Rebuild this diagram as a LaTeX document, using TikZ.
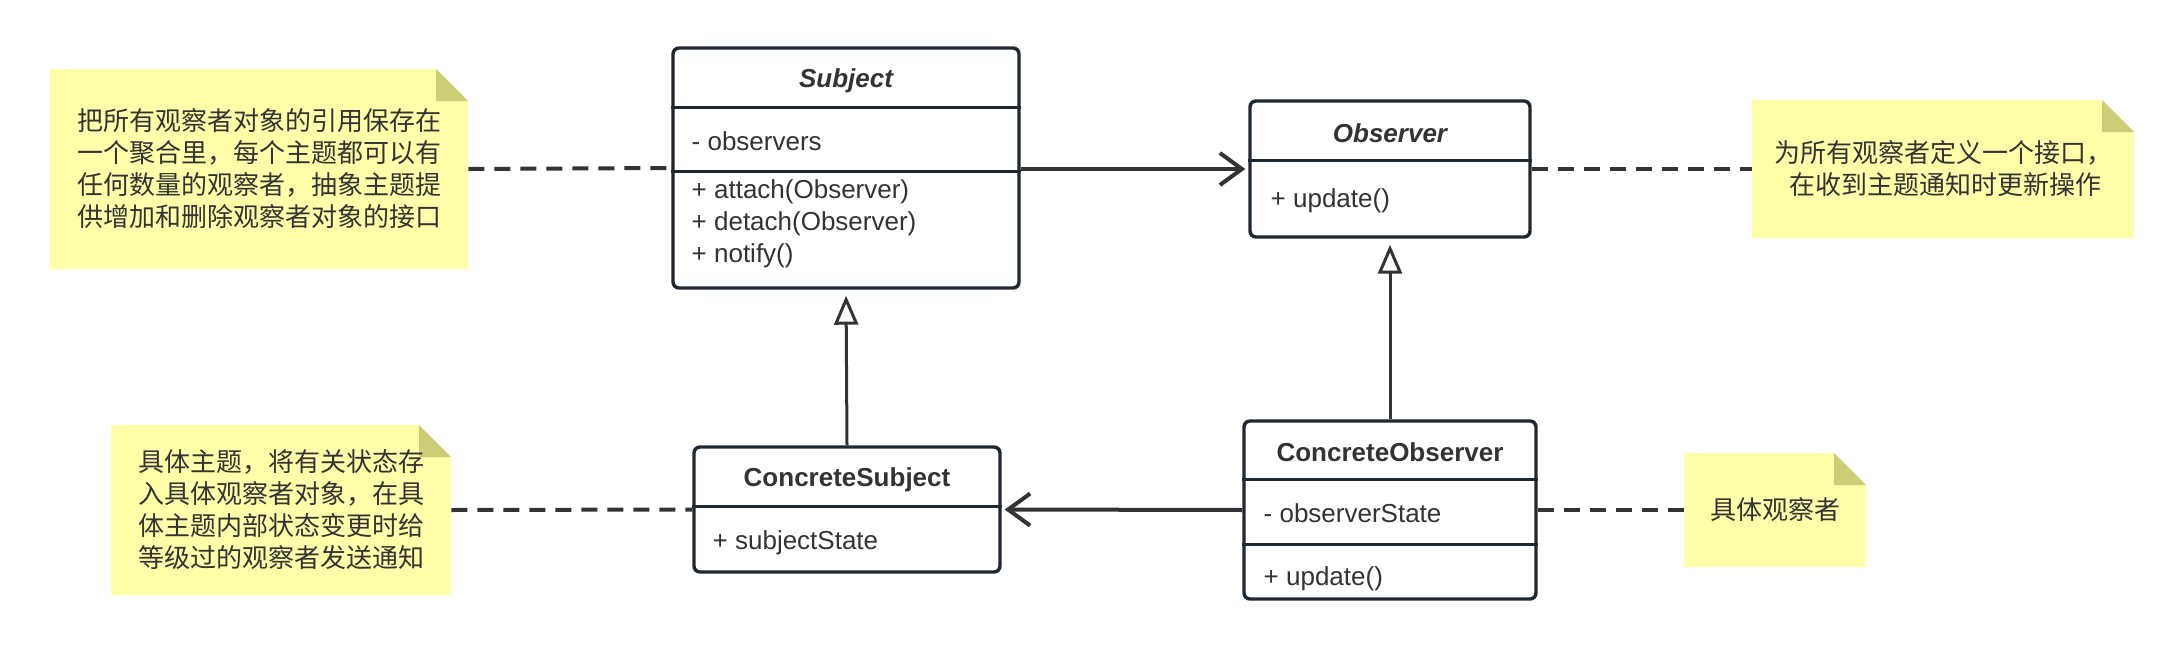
\documentclass[tikz,border=0pt]{standalone}
\usepackage{fontspec}
\setmainfont{Liberation Sans}
\newfontfamily\cjk{Noto Sans CJK SC}
\usetikzlibrary{positioning,calc,arrows.meta}
\definecolor{boxline}{HTML}{1F2830}
\definecolor{wire}{HTML}{333333}
\definecolor{ink}{HTML}{333333}
\definecolor{notebg}{HTML}{FFFFAA}
\definecolor{notefold}{HTML}{CDCD78}

\begin{document}
\begin{tikzpicture}[%
        x=0.5pt, y=-0.5pt,
        every node/.style={text=ink, font=\fontsize{13pt}{16pt}\selectfont},
        umlbox/.style={%
          draw=boxline, line width=1.7pt, rounded corners=3pt,
          fill=white, inner sep=0pt
        },
        divider/.style={draw=boxline, line width=1.6pt},
        classname/.style={inner sep=0pt, font=\fontsize{13pt}{16pt}\selectfont\bfseries},
        abstractname/.style={inner sep=0pt, font=\fontsize{13pt}{16pt}\selectfont\bfseries\itshape},
        member/.style={anchor=west, inner sep=0pt, align=left},
        note/.style={%
          inner sep=0pt, align=center,
          font=\cjk\fontsize{13pt}{16pt}\selectfont,
          path picture={%
            \fill[notebg] (path picture bounding box.north west)
              -- ([xshift=-16pt]path picture bounding box.north east)
              -- ([yshift=-16pt]path picture bounding box.north east)
              -- (path picture bounding box.south east)
              -- (path picture bounding box.south west) -- cycle;
            \fill[notefold] ([xshift=-16pt]path picture bounding box.north east)
              -- ([xshift=-16pt,yshift=-16pt]path picture bounding box.north east)
              -- ([yshift=-16pt]path picture bounding box.north east) -- cycle;
          }
        },
        assoc/.style={draw=wire, line width=2pt, shorten >=1.5pt,
          -{Straight Barb[length=11pt,width=16pt]}},
        inherit/.style={draw=wire, line width=1.5pt, shorten >=3pt,
          -{Triangle[open,length=14.5pt,width=12pt,fill=white]}},
        link/.style={draw=wire, line width=2pt, dash pattern=on 8pt off 5pt}
      ]
      \useasboundingbox (0,0) rectangle (2184,648);
      % classes
      \node[umlbox, minimum width=173pt, minimum height=120pt] (subject) at (846,168) {};
      \draw[divider] ($(subject.north west)+(0,61)$) -- ($(subject.north east)+(0,61)$);
      \draw[divider] ($(subject.north west)+(0,125)$) -- ($(subject.north east)+(0,125)$);
      \node[abstractname] (subjectname) at ($(subject.north)+(0,34)$) {Subject};
      \node[member] (subjectattr) at ($(subject.north west)+(20,95)$) {- observers};
      \node[member] (subjectops) at ($(subject.north west)+(20,177)$) {+ attach(Observer)\\+ detach(Observer)\\+ notify()};

      \node[umlbox, minimum width=140pt, minimum height=68pt] (observer) at (1390,169) {};
      \draw[divider] ($(observer.north west)+(0,61)$) -- ($(observer.north east)+(0,61)$);
      \node[abstractname] (observername) at ($(observer.north)+(0,34)$) {Observer};
      \node[member] (observerops) at ($(observer.north west)+(22,101)$) {+ update()};

      \node[umlbox, minimum width=153pt, minimum height=62.5pt] (csubject) at (847,509.5) {};
      \draw[divider] ($(csubject.north west)+(0,61)$) -- ($(csubject.north east)+(0,61)$);
      \node[classname] (csubjectname) at ($(csubject.north)+(0,34)$) {ConcreteSubject};
      \node[member] (csubjectattr) at ($(csubject.north west)+(20,97)$) {+ subjectState};

      \node[umlbox, minimum width=146pt, minimum height=89pt] (cobserver) at (1390,510) {};
      \draw[divider] ($(cobserver.north west)+(0,60)$) -- ($(cobserver.north east)+(0,60)$);
      \draw[divider] ($(cobserver.north west)+(0,125)$) -- ($(cobserver.north east)+(0,125)$);
      \node[classname] (cobservername) at ($(cobserver.north)+(0,33)$) {ConcreteObserver};
      \node[member] (cobserverattr) at ($(cobserver.north west)+(21,94)$) {- observerState};
      \node[member] (cobserverops) at ($(cobserver.north west)+(21,159)$) {+ update()};

      % notes
      \node[note, minimum width=209pt, minimum height=100pt] (subjectnote) at (259,169)
        {把所有观察者对象的引用保存在\\一个聚合里，每个主题都可以有\\任何数量的观察者，抽象主题提\\供增加和删除观察者对象的接口};
      \node[note, minimum width=191pt, minimum height=69pt] (observernote) at (1943,169)
        {为所有观察者定义一个接口，\\~在收到主题通知时更新操作};
      \node[note, minimum width=170pt, minimum height=85pt] (csubjectnote) at (281,510)
        {具体主题，将有关状态存\\入具体观察者对象，在具\\体主题内部状态变更时给\\等级过的观察者发送通知};
      \node[note, minimum width=91pt, minimum height=57pt] (cobservernote) at (1775,510)
        {具体观察者};

      % relations
      \draw[assoc] (subject.east |- observer.west) -- (observer.west);
      \draw[assoc] (cobserver.west) -- (csubject.east);
      \draw[inherit] (csubject.north) -- (subject.south);
      \draw[inherit] (cobserver.north) -- (observer.south);
      \draw[link] (subjectnote.east) -- (subject.west);
      \draw[link] (observer.east) -- (observernote.west);
      \draw[link] (csubjectnote.east) -- (csubject.west);
      \draw[link] (cobserver.east) -- (cobservernote.west);
  \end{tikzpicture}
\end{document}
